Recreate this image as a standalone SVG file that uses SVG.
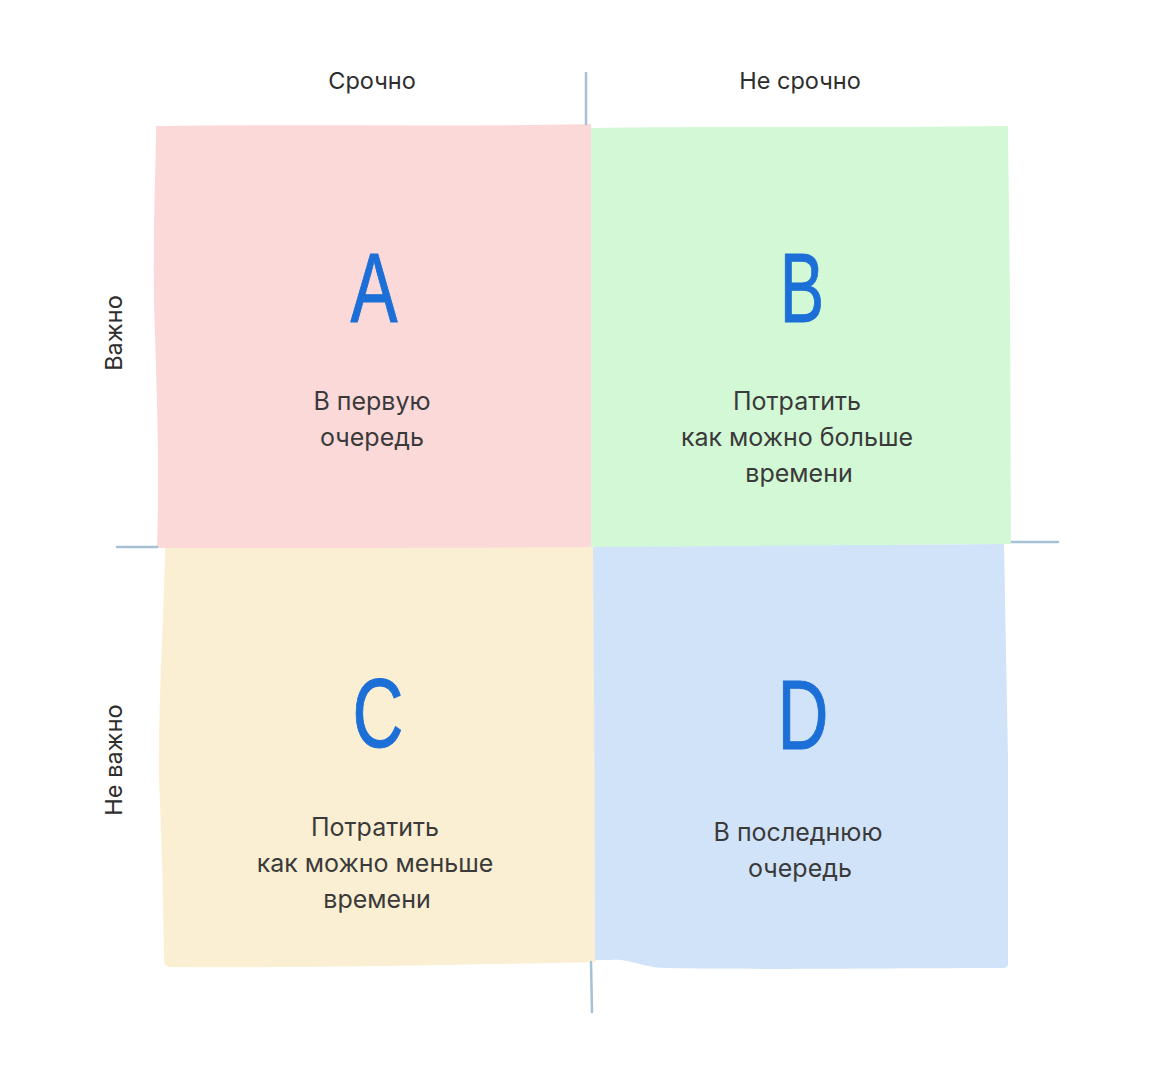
<svg xmlns="http://www.w3.org/2000/svg" width="1175" height="1086" viewBox="0 0 1175 1086">
<style>
.lbl{font-family:Inter,"Noto Sans","DejaVu Sans",sans-serif;font-size:25px;fill:#3a3a3a;text-anchor:middle}
.ax{font-family:Inter,"Noto Sans","DejaVu Sans",sans-serif;font-size:23.5px;fill:#2e2e2e;text-anchor:middle}
.big{font-family:"Liberation Sans","DejaVu Sans",sans-serif;font-size:98px;fill:#1c6fd7;stroke:#1c6fd7;stroke-width:1;stroke-linejoin:round;text-anchor:middle}
.axis{stroke:#a6c0d4;stroke-width:2.5;fill:none;stroke-linecap:round}
</style>
<rect width="1175" height="1086" fill="#ffffff"/>
<g id="quad-a">
<path d="M156,126 C300,124 450,127 591,124 L591,300 L591,549 C450,548 300,549 157,548 C160,450 156,380 154,300 C153,220 156,170 156,126 Z" fill="#fbd9d9"/>
<text class="big" transform="translate(374,322) scale(0.72,1)">A</text>
<text class="lbl" x="372" y="410">В первую</text>
<text class="lbl" x="372" y="446">очередь</text>
</g>
<g id="quad-b">
<path d="M591,128 C720,126 880,128 1008,126 L1010,300 L1011,544 C880,545 720,546 591,548 C591,400 591,260 591,128 Z" fill="#d3f8d5"/>
<text class="big" transform="translate(802,322) scale(0.68,1)">B</text>
<text class="lbl" x="797" y="410">Потратить</text>
<text class="lbl" x="797" y="446">как можно больше</text>
<text class="lbl" x="799" y="482">времени</text>
</g>
<g id="quad-c">
<path d="M165,548 C300,548 450,548 594,547 L596,760 L596,962 C450,965 300,968 170,967 Q164,967 164,960 C163,900 162,840 159,780 C158,700 164,620 165,548 Z" fill="#fbefd3"/>
<text class="big" transform="translate(378,747) scale(0.72,1)">C</text>
<text class="lbl" x="375" y="836">Потратить</text>
<text class="lbl" x="375" y="872">как можно меньше</text>
<text class="lbl" x="377" y="908">времени</text>
</g>
<g id="quad-d">
<path d="M593,547 C720,546 880,545 1004,544 L1008,760 L1008,964 Q1008,968 1003,968 C900,968 760,970 665,968 C640,967 630,958 610,960 L595,960 C595,820 594,680 593,547 Z" fill="#d1e3f8"/>
<text class="big" transform="translate(803,749) scale(0.72,1)">D</text>
<text class="lbl" x="798" y="841">В последнюю</text>
<text class="lbl" x="800" y="877">очередь</text>
</g>
<g id="axes">
<path class="axis" d="M586,73 L586,124"/>
<path class="axis" d="M591,962 L592,1012"/>
<path class="axis" d="M117,547 L157,547"/>
<path class="axis" d="M1012,542 L1058,542"/>
</g>
<g id="axis-labels">
<text class="ax" x="372" y="89">Срочно</text>
<text class="ax" x="800" y="89">Не срочно</text>
<text class="ax" transform="translate(122,333) rotate(-90)">Важно</text>
<text class="ax" transform="translate(122,760) rotate(-90)">Не важно</text>
</g>
</svg>
